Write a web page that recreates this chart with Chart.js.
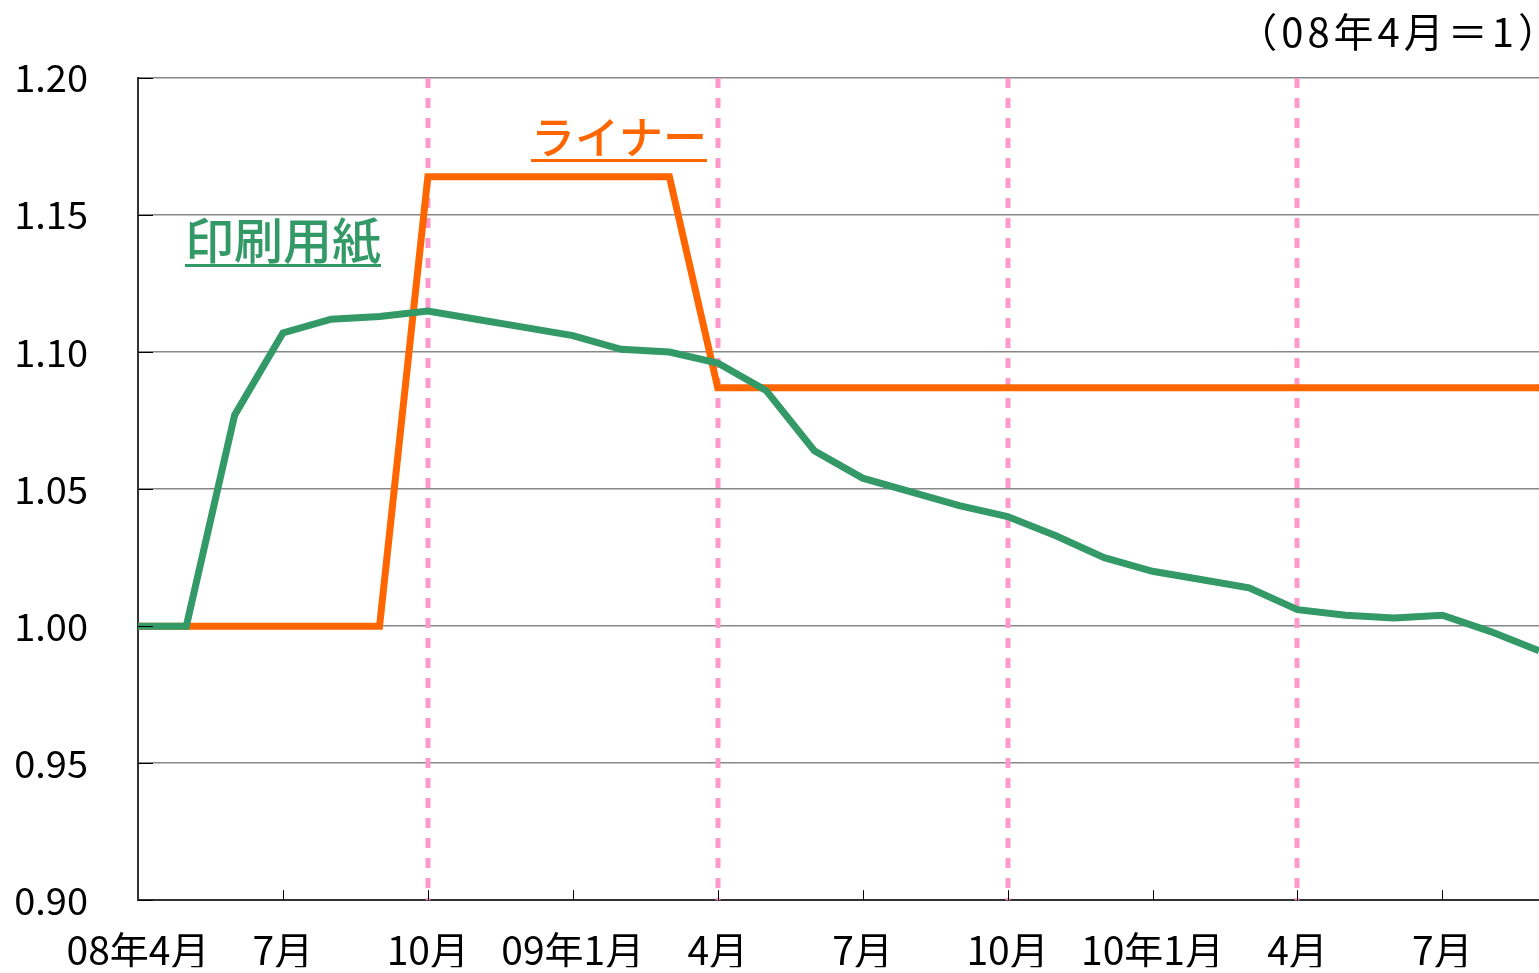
<!DOCTYPE html>
<html>
<head>
<meta charset="utf-8">
<script src="https://cdn.jsdelivr.net/npm/chart.js@4.4.1/dist/chart.umd.min.js"></script>
<style>
  html, body { margin: 0; padding: 0; background: #fff; overflow: hidden; }
  #wrap { width: 1539px; height: 973px; position: relative; }
  canvas { display: block; }
</style>
</head>
<body>
<div id="wrap"><canvas id="myChart"></canvas></div>
<script>
// months 08年4月 .. 10年9月
const months = ['08年4月','5月','6月','7月','8月','9月','10月','11月','12月',
  '09年1月','2月','3月','4月','5月','6月','7月','8月','9月','10月','11月','12月',
  '10年1月','2月','3月','4月','5月','6月','7月','8月','9月'];

const paper = [1.000, 1.000, 1.077, 1.107, 1.112, 1.113, 1.115, 1.112, 1.109,
  1.106, 1.101, 1.100, 1.096, 1.086, 1.064, 1.054, 1.049, 1.044, 1.040, 1.033,
  1.025, 1.020, 1.017, 1.014, 1.006, 1.004, 1.003, 1.004, 0.998, 0.991];

const liner = [1.000, 1.000, 1.000, 1.000, 1.000, 1.000, 1.164, 1.164, 1.164,
  1.164, 1.164, 1.164, 1.087, 1.087, 1.087, 1.087, 1.087, 1.087, 1.087, 1.087,
  1.087, 1.087, 1.087, 1.087, 1.087, 1.087, 1.087, 1.087, 1.087, 1.087];

const markedMonths = [6, 12, 18, 24]; // 10月 / 4月 guide lines

const FONT = '"Noto Sans CJK JP", "Noto Sans", sans-serif';
const ctx = document.getElementById('myChart');

const extras = {
  id: 'extras',
  beforeDatasetsDraw(chart) {
    const c = chart.ctx, x = chart.scales.x, a = chart.chartArea;
    c.save();
    c.strokeStyle = '#ff99cc';
    c.lineWidth = 5;
    c.setLineDash([10, 10]);
    markedMonths.forEach(i => {
      const px = Math.round(x.getPixelForValue(i));
      c.beginPath();
      c.moveTo(px, a.top);
      c.lineTo(px, a.bottom);
      c.stroke();
    });
    c.restore();
  },
  afterDraw(chart) {
    const c = chart.ctx, x = chart.scales.x, y = chart.scales.y, a = chart.chartArea;
    c.save();
    c.strokeStyle = '#000';
    c.lineWidth = 1;
    // inward ticks on x axis
    months.forEach((m, i) => {
      if (i % 3 !== 0 || i === 0) return;
      const px = Math.round(x.getPixelForValue(i)) + 0.5;
      c.beginPath();
      c.moveTo(px, a.bottom - 10);
      c.lineTo(px, a.bottom);
      c.stroke();
    });
    // inward ticks on y axis
    y.ticks.forEach(t => {
      const py = Math.round(y.getPixelForValue(t.value)) + 0.5;
      c.beginPath();
      c.moveTo(a.left, py);
      c.lineTo(a.left + 15, py);
      c.stroke();
    });
    // unit note
    c.textBaseline = 'alphabetic';
    c.font = '40px ' + FONT;
    c.fillStyle = '#000';
    c.textAlign = 'right';
    c.letterSpacing = '4px';
    c.fillText('（08年4月＝1）', 1562, 47);
    c.letterSpacing = '0px';

    const label = (txt, left, base, size, color) => {
      c.font = '500 ' + size + 'px ' + FONT;
      c.fillStyle = color;
      c.textAlign = 'left';
      c.fillText(txt, left, base);
      const w = c.measureText(txt).width;
      c.fillRect(left, base + 5, w, 3);
    };
    label('ライナー', 531, 154, 44, '#ff6600');
    label('印刷用紙', 185, 259, 49, '#339966');
    c.restore();
  }
};

new Chart(ctx, {
  type: 'line',
  data: {
    labels: months,
    datasets: [
      {
        label: '印刷用紙',
        data: paper,
        borderColor: '#339966',
        borderWidth: 7,
        pointRadius: 0,
        tension: 0,
        order: 0
      },
      {
        label: 'ライナー',
        data: liner,
        borderColor: '#ff6600',
        borderWidth: 7,
        pointRadius: 0,
        tension: 0,
        order: 1
      }
    ]
  },
  options: {
    responsive: true,
    maintainAspectRatio: false,
    animation: false,
    layout: { padding: { top: 78, right: 0, left: 0, bottom: 0 } },
    plugins: {
      legend: { display: false },
      tooltip: { enabled: false }
    },
    scales: {
      x: {
        offset: false,
        grid: { display: false, drawTicks: false },
        border: { color: '#333', width: 2 },
        ticks: {
          autoSkip: false,
          maxRotation: 0,
          padding: 27,
          color: '#000',
          font: { family: FONT, size: 39 },
          callback: (v, i) => (i % 3 === 0 ? months[i] : '')
        },
        afterFit: s => { s.height = 67; s.paddingLeft = 0; s.paddingRight = 0; }
      },
      y: {
        min: 0.9,
        max: 1.2,
        grid: { color: '#888', lineWidth: 1.5, drawTicks: false },
        border: { color: '#333', width: 2 },
        ticks: {
          stepSize: 0.05,
          padding: 50,
          color: '#000',
          font: { family: FONT, size: 38 },
          callback: v => v.toFixed(2)
        },
        afterFit: s => { s.width = 138; }
      }
    }
  },
  plugins: [extras]
});
</script>
</body>
</html>
